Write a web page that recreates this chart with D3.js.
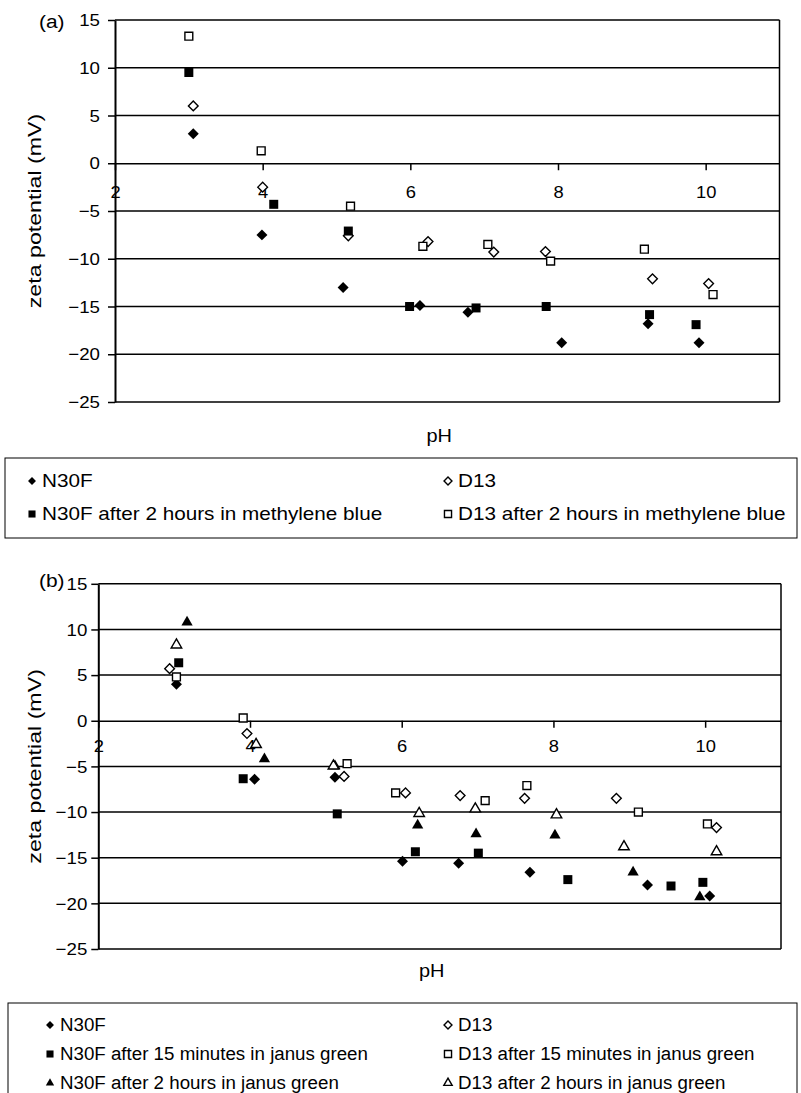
<!DOCTYPE html>
<html>
<head>
<meta charset="utf-8">
<script src="https://cdn.jsdelivr.net/npm/d3@7"></script>
<style>
body { margin: 0; background: #fff; }
text { font-family: Arial, "Liberation Sans", sans-serif; fill: #000; }
</style>
</head>
<body>
<svg id="chart" width="801" height="1093"></svg>
<script>
const phTicks = [2, 4, 6, 8, 10];
const zetaTicks = [15, 10, 5, 0, -5, -10, -15, -20, -25];

// panel (a): [pH, zeta potential mV]
const aN30F = [[3.06, 3.1], [3.99, -7.5], [5.09, -13.0], [6.13, -14.9], [6.78, -15.6], [8.05, -18.8], [9.22, -16.8], [9.91, -18.8]];
const aD13 = [[3.06, 6.0], [4.0, -2.5], [5.16, -7.6], [6.24, -8.2], [7.13, -9.3], [7.83, -9.25], [9.28, -12.1], [10.04, -12.6]];
const aN30FBlue = [[3.0, 9.5], [4.15, -4.3], [5.16, -7.1], [5.99, -15.0], [6.89, -15.15], [7.84, -15.0], [9.24, -15.85], [9.87, -16.9]];
const aD13Blue = [[3.0, 13.3], [3.98, 1.3], [5.19, -4.5], [6.17, -8.7], [7.05, -8.5], [7.90, -10.25], [9.17, -9.0], [10.10, -13.75]];

// panel (b)
const bN30F = [[3.03, 4.0], [4.06, -6.4], [5.12, -6.2], [6.01, -15.4], [6.75, -15.6], [7.69, -16.6], [9.24, -18.0], [10.06, -19.2]];
const bD13 = [[2.94, 5.7], [3.96, -1.4], [5.24, -6.1], [6.05, -7.9], [6.77, -8.2], [7.62, -8.5], [8.83, -8.5], [10.15, -11.7]];
const bN30F15 = [[3.06, 6.35], [3.91, -6.35], [5.15, -10.2], [6.18, -14.35], [7.01, -14.5], [8.19, -17.4], [9.55, -18.1], [9.97, -17.7]];
const bD1315 = [[3.03, 4.8], [3.91, 0.3], [5.28, -4.7], [5.92, -7.9], [7.10, -8.75], [7.65, -7.1], [9.12, -10.0], [10.03, -11.3]];
const bN30F2h = [[3.17, 10.8], [4.19, -4.2], [5.12, -4.95], [6.21, -11.45], [6.98, -12.4], [8.02, -12.55], [9.05, -16.6], [9.93, -19.3]];
const bD132h = [[3.03, 8.3], [4.08, -2.6], [5.10, -4.95], [6.23, -10.15], [6.97, -9.65], [8.04, -10.3], [8.93, -13.8], [10.15, -14.35]];

const svg = d3.select("#chart");

const shapes = {
    diamond: { type: d3.symbolDiamond2, filled: 77, open: 60, legend: 40 },
    square: { type: d3.symbolSquare, filled: 81, open: 62, legend: 50 },
    triangle: { type: d3.symbolTriangle, filled: 55, open: 48, legend: 30 }
};

function marker(g, shape, filled, size) {
    return g.append("path")
        .attr("d", d3.symbol().type(shapes[shape].type).size(size))
        .attr("fill", filled ? "#000" : "#fff")
        .attr("stroke", filled ? "none" : "#000")
        .attr("stroke-width", 1.4);
}

function label(x, y, str, size, sx, anchor) {
    return svg.append("text")
        .attr("transform", `translate(${x},${y}) scale(${sx},1)`)
        .attr("text-anchor", anchor || "start")
        .attr("dominant-baseline", "central")
        .style("font-size", size + "px")
        .text(str);
}

const minus = d => d < 0 ? "\u2212" + Math.abs(d) : String(d);

function drawPanel(p) {
    const x = d3.scaleLinear().domain([2, 11]).range([p.left, p.right]);
    const y = d3.scaleLinear().domain([-25, 15]).range([p.bottom, p.top]);
    const g = svg.append("g");

    // grid lines and frame
    g.selectAll("line.grid")
        .data(zetaTicks.filter(v => v !== 0))
        .join("line")
        .attr("x1", p.left).attr("x2", p.right)
        .attr("y1", d => y(d)).attr("y2", d => y(d))
        .attr("stroke", "#000").attr("stroke-width", 1.5);
    g.append("line")
        .attr("x1", p.right).attr("x2", p.right)
        .attr("y1", p.top).attr("y2", p.bottom)
        .attr("stroke", "#000").attr("stroke-width", 1.5);

    // x axis along zero
    const xa = g.append("g")
        .attr("transform", `translate(0,${y(0)})`)
        .call(d3.axisBottom(x).tickValues(phTicks).tickSize(7).tickSizeOuter(0));
    xa.select(".domain").attr("stroke-width", 1.5);
    xa.selectAll(".tick line").attr("stroke-width", 1.5);
    xa.selectAll(".tick text")
        .attr("dy", null).attr("y", p.xLabelOff)
        .attr("dominant-baseline", "central")
        .attr("transform", "scale(1.08,1)")
        .style("font-size", "17px").attr("font-family", null);

    // y axis
    const ya = g.append("g")
        .attr("transform", `translate(${p.left},0)`)
        .call(d3.axisLeft(y).tickValues(zetaTicks).tickSize(7).tickSizeOuter(0).tickFormat(minus));
    ya.select(".domain").attr("stroke-width", 2);
    ya.selectAll(".tick line").attr("stroke-width", 1.5);
    ya.selectAll(".tick text")
        .attr("dy", null).attr("x", -p.yLabelGap / 1.1)
        .attr("dominant-baseline", "central")
        .attr("transform", "scale(1.1,1)")
        .style("font-size", "17px").attr("font-family", null);

    // markers
    p.series.forEach(s => {
        s.data.forEach(d => {
            marker(g, s.shape, s.filled, s.filled ? shapes[s.shape].filled : shapes[s.shape].open)
                .attr("transform", `translate(${x(d[0])},${y(d[1])})`);
        });
    });

    // titles
    label(p.tag[0], p.tag[1], p.name, 19, 1.1, "start");
    svg.append("text")
        .attr("transform", `translate(34,${(p.top + p.bottom) / 2}) rotate(-90) scale(1.22,1)`)
        .attr("text-anchor", "middle")
        .attr("dominant-baseline", "central")
        .style("font-size", "19px")
        .text("zeta potential (mV)");
    label((p.left + p.right) / 2 - 8, p.phY, "pH", 19, 1.05, "middle");

    // legend
    const L = p.legend;
    svg.append("rect")
        .attr("x", L.x).attr("y", L.y).attr("width", L.w).attr("height", L.h)
        .attr("fill", "none").attr("stroke", "#000").attr("stroke-width", 1);
    p.series.forEach((s, i) => {
        const col = i % 2, row = Math.floor(i / 2);
        const mx = L.cols[col], my = L.rows[row];
        marker(svg, s.shape, s.filled, shapes[s.shape].legend)
            .attr("transform", `translate(${mx},${my})`);
        label(mx + 10, my, s.name, 18, L.sx, "start");
    });
}

drawPanel({
    name: "(a)", tag: [39, 21],
    left: 115, right: 779.5, top: 20, bottom: 402,
    xLabelOff: 29, yLabelGap: 15, phY: 435,
    series: [
        { name: "N30F", data: aN30F, shape: "diamond", filled: true },
        { name: "D13", data: aD13, shape: "diamond", filled: false },
        { name: "N30F after 2 hours in methylene blue", data: aN30FBlue, shape: "square", filled: true },
        { name: "D13 after 2 hours in methylene blue", data: aD13Blue, shape: "square", filled: false }
    ],
    legend: { x: 5, y: 458, w: 792, h: 80, cols: [32, 448], rows: [481, 514], sx: 1.15 }
});

drawPanel({
    name: "(b)", tag: [39, 580],
    left: 98.3, right: 781, top: 583.8, bottom: 949,
    xLabelOff: 25, yLabelGap: 11, phY: 970,
    series: [
        { name: "N30F", data: bN30F, shape: "diamond", filled: true },
        { name: "D13", data: bD13, shape: "diamond", filled: false },
        { name: "N30F after 15 minutes in janus green", data: bN30F15, shape: "square", filled: true },
        { name: "D13 after 15 minutes in janus green", data: bD1315, shape: "square", filled: false },
        { name: "N30F after 2 hours in janus green", data: bN30F2h, shape: "triangle", filled: true },
        { name: "D13 after 2 hours in janus green", data: bD132h, shape: "triangle", filled: false }
    ],
    legend: { x: 8, y: 1003, w: 789, h: 100, cols: [50, 448], rows: [1025, 1054, 1083], sx: 1.04 }
});
</script>
</body>
</html>
